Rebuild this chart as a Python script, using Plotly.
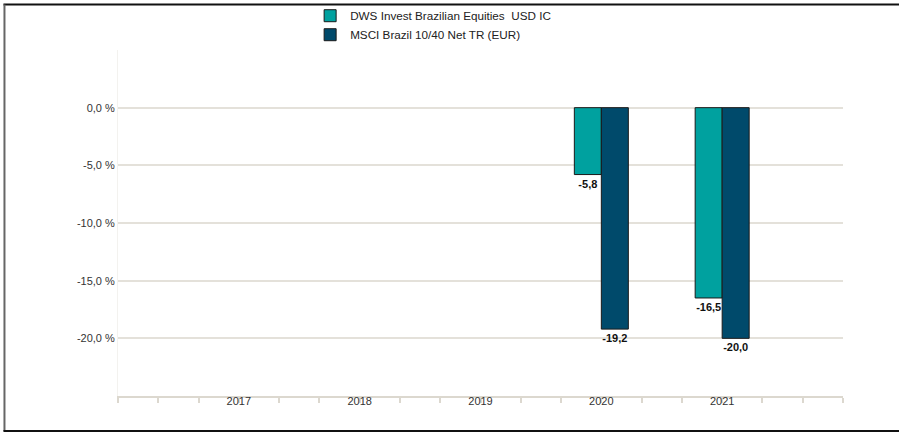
import plotly.graph_objects as go

years = [2017, 2018, 2019, 2020, 2021]
year_labels = ["2017", "2018", "2019", "2020", "2021"]
fund_name = "DWS Invest Brazilian Equities  USD IC"
bench_name = "MSCI Brazil 10/40 Net TR (EUR)"
fund_values = [None, None, None, -5.8, -16.5]
bench_values = [None, None, None, -19.2, -20.0]
y_ticks = [-25, -20, -15, -10, -5, 0, 5]
y_tick_labels = ["", "-20,0 %", "-15,0 %", "-10,0 %", "-5,0 %", "0,0 %", ""]


def fmt(v):
    return "" if v is None else f"{v:.1f}".replace(".", ",")


label_font = dict(color="#111111", size=11, family="Liberation Sans", weight="bold")

fig = go.Figure()
fig.add_trace(go.Bar(
    x=years, y=fund_values, name=fund_name,
    marker=dict(color="#00A19F", line=dict(color="#1a1a1a", width=1)),
    text=[fmt(v) for v in fund_values], textposition="outside",
    textfont=label_font, constraintext="none", cliponaxis=False,
))
fig.add_trace(go.Bar(
    x=years, y=bench_values, name=bench_name,
    marker=dict(color="#004A6B", line=dict(color="#1a1a1a", width=1)),
    text=[fmt(v) for v in bench_values], textposition="outside",
    textfont=label_font, constraintext="none", cliponaxis=False,
))

fig.update_layout(
    width=899, height=433,
    margin=dict(l=118, r=56, t=50, b=37, autoexpand=False),
    paper_bgcolor="white", plot_bgcolor="white",
    barmode="group", bargap=0.553, bargroupgap=0,
    font=dict(family="Liberation Sans, Arial, sans-serif", size=11, color="#333333"),
    showlegend=True,
    legend=dict(
        x=0.265, y=1.141, xanchor="left", yanchor="top",
        font=dict(size=11.7, color="#222222"),
        bgcolor="rgba(0,0,0,0)", tracegroupgap=0,
    ),
    xaxis=dict(
        range=[2016, 2022], tickmode="array", tickvals=years, ticktext=year_labels,
        ticks="", showgrid=False, zeroline=False,
        showline=True, linecolor="#dcd8cf", linewidth=2,
        tickfont=dict(size=11, color="#333333"), ticklabelstandoff=-6,
        minor=dict(dtick=1/3, tick0=2016, ticks="outside", ticklen=5,
                   tickcolor="#dcd8cf", tickwidth=1.5, showgrid=False),
    ),
    yaxis=dict(
        range=[-25, 5], tickmode="array", tickvals=y_ticks, ticktext=y_tick_labels,
        showgrid=True, gridcolor="#e4e1da", gridwidth=1.5,
        zeroline=False, showline=True, linecolor="#f3f2ef", linewidth=1,
        ticks="", tickfont=dict(size=11, color="#333333"),
    ),
    shapes=[
        dict(type="line", xref="paper", yref="paper", x0=-0.158, x1=1.09,
             y0=1.1315, y1=1.1315, line=dict(color="#111111", width=2)),
        dict(type="line", xref="paper", yref="paper", x0=-0.1566, x1=-0.1566,
             y0=1.1315, y1=-0.1012, line=dict(color="#666666", width=2)),
        dict(type="line", xref="paper", yref="paper", x0=-0.158, x1=1.09,
             y0=-0.1012, y1=-0.1012, line=dict(color="#111111", width=2)),
    ],
)

fig.write_html("out.html")
